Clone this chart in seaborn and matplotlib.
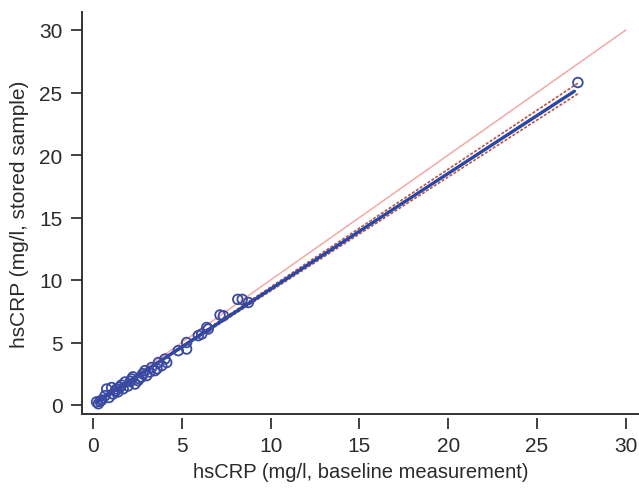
import numpy as np
import pandas as pd
import matplotlib
matplotlib.use("Agg")
import matplotlib.pyplot as plt
import seaborn as sns

# hsCRP values (mg/l)
baseline = [0.3, 0.5, 0.68, 0.77, 0.9, 1.05, 1.13, 1.33, 1.4, 1.52, 1.7, 1.8, 1.97,
            2.1, 2.18, 2.36, 2.53, 2.6, 2.74, 2.93, 3.02, 3.2, 3.3, 3.49, 3.6, 3.68,
            3.87, 4.05, 4.15, 4.8, 5.27, 5.27, 5.93, 6.12, 6.4, 6.49, 7.15, 7.34,
            8.15, 8.4, 8.75, 27.3, 0.4, 1.25, 1.6, 2.25, 2.8, 0.2]
stored = [0.1, 0.4, 0.75, 1.28, 0.6, 1.4, 0.88, 1.28, 1.05, 1.44, 1.3, 1.84, 1.52,
          1.9, 2.08, 1.68, 1.95, 2.1, 2.24, 2.75, 2.35, 2.64, 3.0, 2.75, 2.9, 3.4,
          3.15, 3.68, 3.4, 4.35, 4.48, 5.0, 5.55, 5.68, 6.2, 6.08, 7.2, 7.14,
          8.45, 8.45, 8.2, 25.8, 0.3, 1.1, 1.6, 2.25, 2.5, 0.25]

# identity line, regression fit and its confidence limits
ident_x = [0, 30]
ident_y = [0, 30]
fit_x = [0.2, 27.1]
fit_y = [0.2, 25.1]
upper_x = [0.2, 3.0, 27.3]
upper_y = [0.28, 2.83, 25.75]
lower_x = [0.2, 3.0, 27.3]
lower_y = [0.12, 2.74, 24.9]

sns.set_theme(style="ticks")
plt.rcParams["font.family"] = ["Liberation Sans", "DejaVu Sans"]

ink = "#333333"
fig = plt.figure(figsize=(6.39, 4.89), dpi=100)
ax = fig.add_axes([82 / 639, 74 / 489, 1 - 82 / 639, (415 - 13) / 489])

sns.lineplot(x=ident_x, y=ident_y, ax=ax, color="#f2a9a6", linewidth=1.1)
sns.lineplot(x=upper_x, y=upper_y, ax=ax, color="#b5554c", linewidth=1.2,
             linestyle=(0, (1.8, 1.0)))
sns.lineplot(x=lower_x, y=lower_y, ax=ax, color="#b5554c", linewidth=1.2,
             linestyle=(0, (1.8, 1.0)))
sns.lineplot(x=fit_x, y=fit_y, ax=ax, color="#2a46a6", linewidth=2.4)
sns.scatterplot(x=baseline, y=stored, ax=ax, s=48, facecolor="none",
                edgecolor="#3a4aa0", linewidth=1.3, zorder=4)

ax.set_xlim(-0.62, 30.74)
ax.set_ylim(-0.72, 31.44)
ax.set_xticks(range(0, 31, 5))
ax.set_yticks(range(0, 31, 5))

sns.despine(ax=ax)
# ticks sit a little below the bottom axis line
ax.spines["bottom"].set_position(("outward", 3))
ax.spines["bottom"].set_visible(False)
ax.plot([0, 1], [0, 0], transform=ax.transAxes, clip_on=False, color=ink, linewidth=1.4)
ax.spines["left"].set_color(ink)
ax.spines["left"].set_linewidth(1.4)

ax.tick_params(axis="both", colors=ink, labelcolor="#2a2a2a", labelsize=15,
               width=1.3, direction="out")
ax.tick_params(axis="x", length=8, pad=5)
ax.tick_params(axis="y", length=8, pad=6)

ax.set_xlabel("hsCRP (mg/l, baseline measurement)", fontsize=14.5, color="#2a2a2a", labelpad=5)
ax.set_ylabel("hsCRP (mg/l, stored sample)", fontsize=15, color="#2a2a2a", labelpad=7)

fig.savefig("out.png", dpi=100)
